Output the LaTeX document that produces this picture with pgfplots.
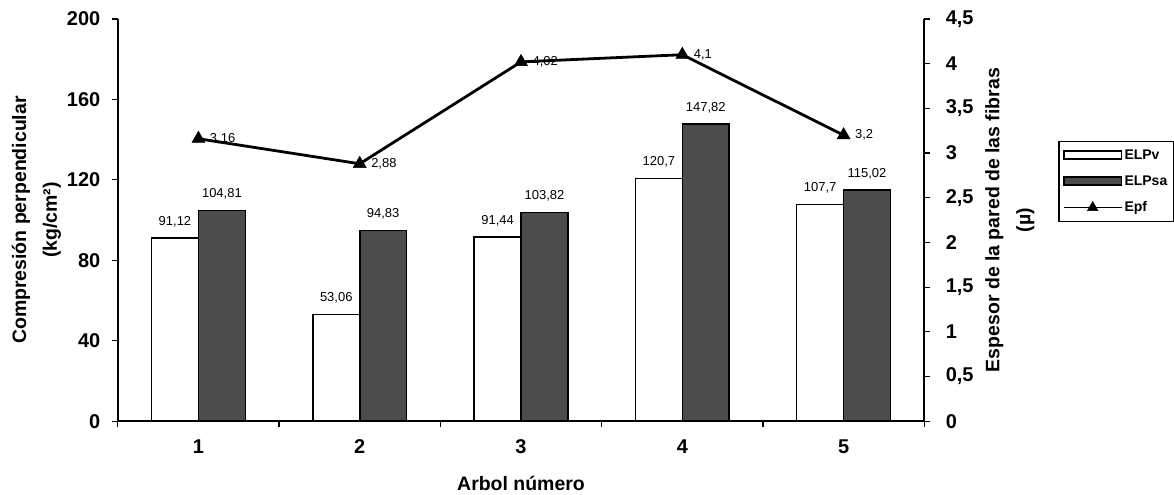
\documentclass[border=0pt]{standalone}
\usepackage{fontspec}
\setmainfont{Liberation Sans}
\usepackage{pgfplots}
\pgfplotsset{compat=1.18}
\pgfplotsset{/pgf/number format/use comma, /pgf/number format/assume math mode=true}

\newcommand{\tickfont}{\bfseries\fontsize{20}{20}\selectfont}
\newcommand{\labfont}{\bfseries\fontsize{19.5}{31}\selectfont}
\newcommand{\valfont}{\fontsize{13}{14}\selectfont}

\pgfplotsset{
  base/.style={
    scale only axis, width=808pt, height=403pt,
    xmin=0.5, xmax=5.5,
    tick align=outside, major tick length=6pt,
    every tick/.style={black, line width=1.2pt},
    axis line style={line width=1.6pt},
    tick label style={font=\tickfont},
    label style={font=\labfont, align=center},
  },
  boxlegend/.style={legend image code/.code={%
    \draw[#1, line width=1.5pt] (0pt,-4pt) rectangle (58pt,4pt);}},
  linelegend/.style={legend image code/.code={%
    \draw[mark repeat=2, mark phase=2, ##1, line width=1.8pt, mark size=6pt]
      plot coordinates {(0pt,0pt) (29pt,0pt) (58pt,0pt)};}},
}

\begin{document}
\begin{tikzpicture}
% bars: compression values
\begin{axis}[
  base,
  ymin=0, ymax=200,
  axis y line*=left, axis x line*=bottom,
  yticklabel shift=8pt,
  ybar=0pt, bar width=47pt,
  xtick={0.5,1.5,...,5.5},
  x tick label as interval,
  xticklabels={1,2,3,4,5},
  xticklabel shift=9pt,
  xlabel shift=16pt,
  ytick={0,40,80,120,160,200},
  xlabel={Arbol número},
  ylabel={Compresión perpendicular\\(kg/cm²)},
  ylabel shift=-1pt,
  nodes near coords,
  every node near coord/.append style={font=\valfont, black, yshift=7pt},
]
\addplot[draw=black, line width=1.6pt, fill=white]
  coordinates {(1,91.12) (2,53.06) (3,91.44) (4,120.7) (5,107.7)};
\addplot[draw=black, line width=1.6pt, fill=black!70]
  coordinates {(1,104.81) (2,94.83) (3,103.82) (4,147.82) (5,115.02)};
\end{axis}
% line: fibre wall thickness
\begin{axis}[
  base,
  ymin=0, ymax=4.5,
  axis y line*=right, axis x line=none,
  yticklabel shift=12pt,
  ytick={0,0.5,...,4.5},
  ylabel={Espesor de la pared de las fibras\\(µ)},
  ylabel shift=5pt,
  legend style={at={(1.166,0.596)}, anchor=west, draw=black, line width=1.5pt,
    font=\bfseries\fontsize{14}{16}\selectfont, row sep=11pt,
    inner xsep=4pt, inner ysep=6pt},
  legend cell align=left,
]
\addlegendimage{boxlegend={fill=white, draw=black}}
\addlegendentry{ELPv}
\addlegendimage{boxlegend={fill=black!70, draw=black}}
\addlegendentry{ELPsa}
\addplot[black, line width=2.8pt, mark=triangle*, mark size=7.5pt,
  mark options={line width=0.5pt},
  nodes near coords,
  every node near coord/.append style={font=\valfont, anchor=west, xshift=8pt},
  linelegend]
  coordinates {(1,3.16) (2,2.88) (3,4.02) (4,4.1) (5,3.2)};
\addlegendentry{Epf}
\end{axis}
% page margins around the plot area
\path (-118pt,-71pt) rectangle (1056pt,422pt);
\end{tikzpicture}
\end{document}
